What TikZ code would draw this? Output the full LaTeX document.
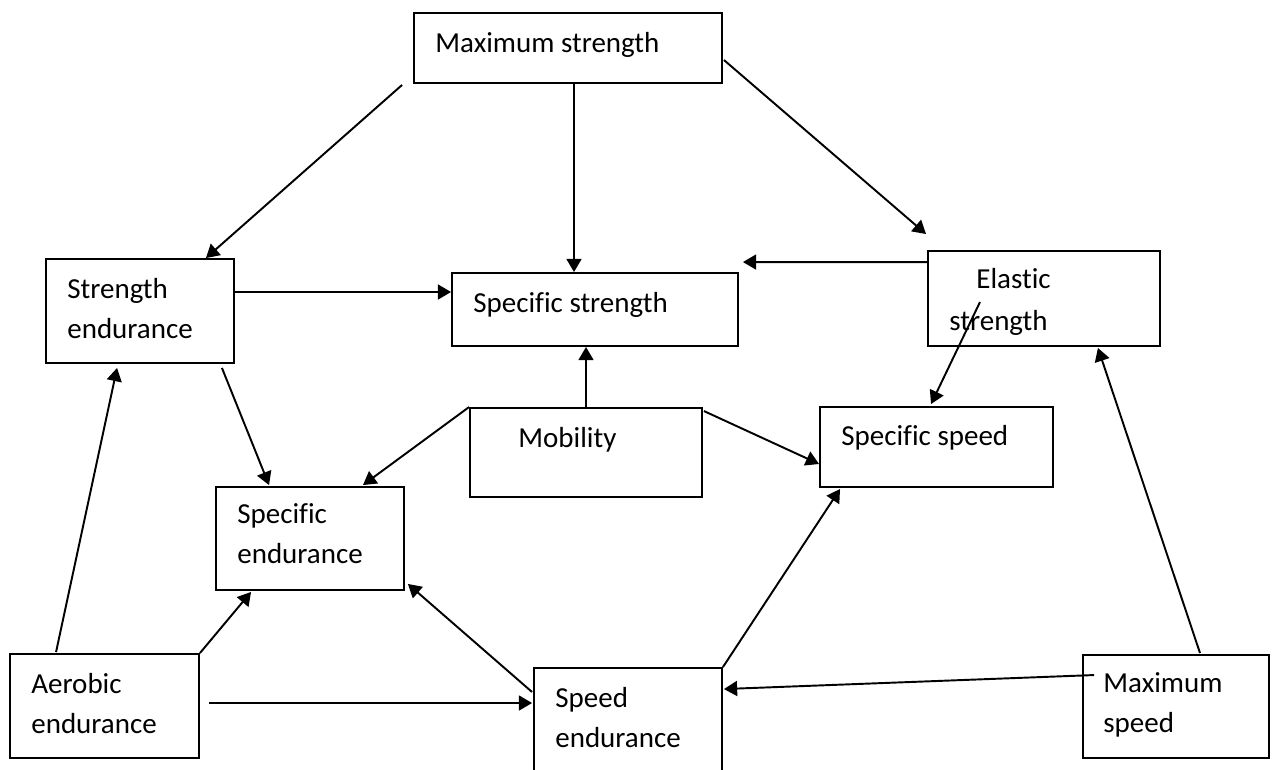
\documentclass[tikz,border=0pt]{standalone}
\usepackage{fontspec}
\setmainfont{Carlito}[Ligatures=NoCommon]
\usetikzlibrary{arrows.meta,calc}
\begin{document}
\begin{tikzpicture}[x=0.02cm, y=-0.02cm, >={Triangle[length=7.5pt,width=8.5pt]},
    box/.style={draw, line width=1.1pt, inner sep=0pt},
    txt/.style={anchor=base west, inner sep=0pt, align=left, font=\fontsize{16.5}{22.7}\selectfont},
    link/.style={->, line width=1.1pt}]
    \useasboundingbox (0,0) rectangle (1272,769);
    \node[box, minimum width=6.16cm, minimum height=1.40cm] (maxstr) at (568,48) {};
    \node[box, minimum width=3.76cm, minimum height=2.08cm] (strend) at (140,311) {};
    \node[box, minimum width=5.72cm, minimum height=1.46cm] (specstr) at (595,309.5) {};
    \node[box, minimum width=4.64cm, minimum height=1.90cm] (elastic) at (1044,298.5) {};
    \node[box, minimum width=4.64cm, minimum height=1.78cm] (mobility) at (586,452.5) {};
    \node[box, minimum width=4.66cm, minimum height=1.60cm] (specspeed) at (936.5,447) {};
    \node[box, minimum width=3.76cm, minimum height=2.06cm] (specend) at (310,538.5) {};
    \node[box, minimum width=3.78cm, minimum height=2.08cm] (aerobic) at (104.5,706) {};
    \node[box, minimum width=3.76cm, minimum height=2.08cm] (speedend) at (628,720) {};
    \node[box, minimum width=3.72cm, minimum height=2.06cm] (maxspeed) at (1176,706.5) {};
    \node[txt] (maxstr-t) at (435,52) {Maximum strength};
    \node[txt] (strend-t) at (67,338) {Strength\\endurance};
    \node[txt] (specstr-t) at (473,312) {Specific strength};
    \node[txt] (elastic-t1) at (976,288) {Elastic};
    \node[txt] (elastic-t2) at (949,330) {strength};
    \node[txt] (mobility-t) at (518,447) {Mobility};
    \node[txt] (specspeed-t) at (841,445) {Specific speed};
    \node[txt] (specend-t) at (237,563) {Specific\\endurance};
    \node[txt] (aerobic-t) at (31,733) {Aerobic\\endurance};
    \node[txt] (speedend-t) at (555,747) {Speed\\endurance};
    \node[txt] (maxspeed-t) at (1103,732) {Maximum\\speed};
    \draw[link] ($(maxstr.south west)+(-11,1)$) -- ($(strend.north east)+(-29,0)$);
    \draw[link] ($(maxstr.south)+(6,0)$) -- ($(specstr.north)+(-21,0)$);
    \draw[link] ($(maxstr.east)+(1,12)$) -- ($(elastic.north west)+(-1,-16)$);
    \draw[link] ($(elastic.north west)+(0,12)$) -- ($(specstr.north east)+(4,-10)$);
    \draw[link] ($(strend.east)+(0,-19)$) -- ($(specstr.west)+(0,-17.5)$);
    \draw[link] ($(strend.south east)+(-13,4)$) -- ($(specend.north west)+(54,-1)$);
    \draw[link] (mobility.north) -- (specstr.south -| mobility.north);
    \draw[link] (mobility.north west) -- ($(specend.north east)+(-42,-1)$);
    \draw[link] ($(mobility.north east)+(1,4)$) -- ($(specspeed.west)+(0,17)$);
    \draw[link] ($(elastic.center)+(-64,3.5)$) -- ($(specspeed.north west)+(112,-2)$);
    \draw[link] ($(aerobic.north west)+(47,-1)$) -- ($(strend.south west)+(72,4)$);
    \draw[link] (aerobic.north east) -- ($(specend.south west)+(36,1)$);
    \draw[link] ($(aerobic.east)+(9,-3)$) -- ($(speedend.west)+(-1,-17)$);
    \draw[link] ($(speedend.west)+(-1,-28)$) -- ($(specend.south east)+(3,-7)$);
    \draw[link] (speedend.north east) -- ($(specspeed.south west)+(21,1)$);
    \draw[link] ($(maxspeed.north west)+(12,21)$) -- ($(speedend.north east)+(1,22)$);
    \draw[link] ($(maxspeed.north)+(24,-1)$) -- ($(elastic.south east)+(-63,1)$);
\end{tikzpicture}
\end{document}
